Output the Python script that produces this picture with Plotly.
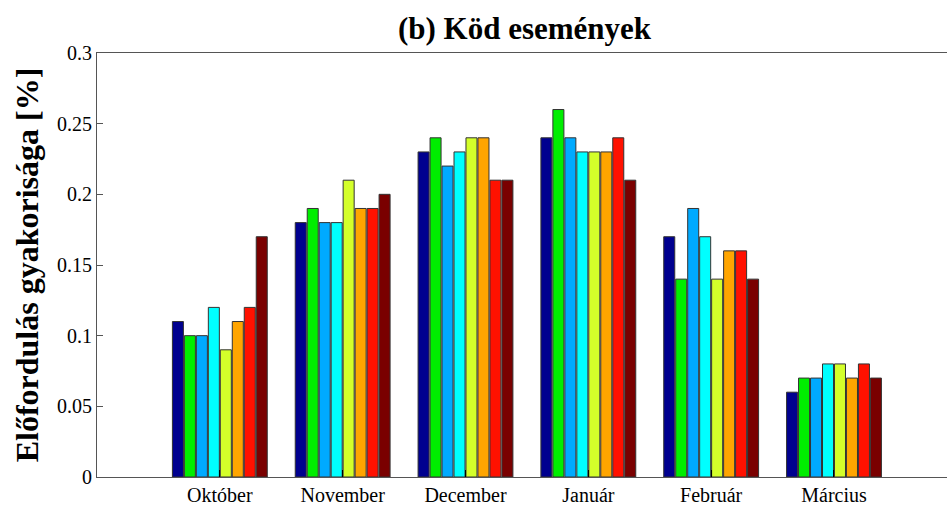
import plotly.graph_objects as go

months = ["Október", "November", "December", "Január", "Február", "Március"]
series_values = [
    [0.11, 0.18, 0.23, 0.24, 0.17, 0.06],
    [0.10, 0.19, 0.24, 0.26, 0.14, 0.07],
    [0.10, 0.18, 0.22, 0.24, 0.19, 0.07],
    [0.12, 0.18, 0.23, 0.23, 0.17, 0.08],
    [0.09, 0.21, 0.24, 0.23, 0.14, 0.08],
    [0.11, 0.19, 0.24, 0.23, 0.16, 0.07],
    [0.12, 0.19, 0.21, 0.24, 0.16, 0.08],
    [0.17, 0.20, 0.21, 0.21, 0.14, 0.07],
]
colors = ["#00008F", "#00EE00", "#00AAFF", "#00FFFF", "#D4FF2A", "#FFA500", "#FF1100", "#7A0000"]
ytick_vals = [0, 0.05, 0.1, 0.15, 0.2, 0.25, 0.3]
ytick_text = ["0", "0.05", "0.1", "0.15", "0.2", "0.25", "0.3"]

fig = go.Figure()
for vals, col in zip(series_values, colors):
    fig.add_trace(go.Bar(
        x=months, y=vals, marker=dict(color=col, line=dict(color="#333333", width=1)),
        showlegend=False,
    ))

serif = "Liberation Serif, Times New Roman, serif"
fig.update_layout(
    width=947, height=505,
    margin=dict(l=97, r=0, t=53, b=28),
    paper_bgcolor="white", plot_bgcolor="white",
    barmode="group", bargap=0.22, bargroupgap=0.08,
    font=dict(family=serif, size=20, color="black"),
    title=dict(text="<b>(b) Köd események</b>", x=0.503, xref="paper", y=0.945, yanchor="middle",
               font=dict(family=serif, size=31, color="black")),
    xaxis=dict(
        type="category", range=[-1, 5.92], showline=True, linecolor="#555555", linewidth=1,
        mirror=True, ticks="inside", ticklen=7, tickcolor="black", showgrid=False,
        tickfont=dict(family=serif, size=20), zeroline=False,
    ),
    yaxis=dict(
        range=[0, 0.3], tickvals=ytick_vals, ticktext=ytick_text, showline=True,
        linecolor="#555555", linewidth=1, ticks="inside", ticklen=6, tickcolor="#555555",
        showgrid=False, zeroline=False, tickfont=dict(family=serif, size=20),
        title=dict(text="<b>Előfordulás gyakorisága [%]</b>", font=dict(family=serif, size=32), standoff=8),
    ),
)
fig.write_html("out.html")
